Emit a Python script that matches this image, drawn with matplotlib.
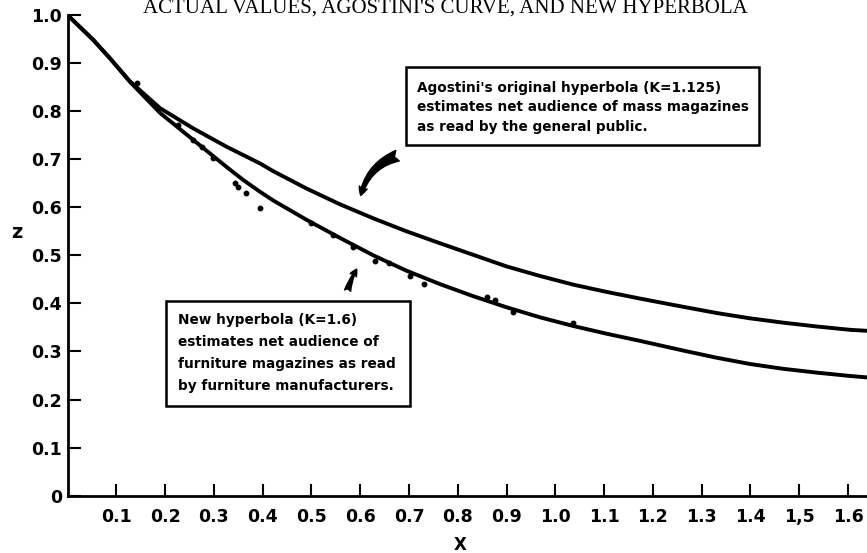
import matplotlib
matplotlib.use("Agg")
import matplotlib.pyplot as plt
from matplotlib.patches import Rectangle

# ---- data ----
agostini_x = [0, 0.053, 0.087, 0.128, 0.19, 0.258, 0.326, 0.395, 0.422, 0.49, 0.559, 0.627,
              0.695, 0.764, 0.832, 0.9, 0.969, 1.037, 1.105, 1.174, 1.262, 1.331, 1.399,
              1.467, 1.536, 1.605, 1.64]
agostini_z = [1.0, 0.948, 0.910, 0.862, 0.806, 0.764, 0.726, 0.691, 0.675, 0.639, 0.606, 0.577,
              0.550, 0.525, 0.501, 0.477, 0.457, 0.439, 0.424, 0.410, 0.393, 0.380, 0.369,
              0.360, 0.352, 0.345, 0.343]

new_x = [0, 0.053, 0.087, 0.128, 0.19, 0.224, 0.258, 0.292, 0.326, 0.36, 0.395, 0.422, 0.49,
         0.559, 0.627, 0.695, 0.764, 0.832, 0.9, 0.969, 1.037, 1.105, 1.174, 1.262, 1.331,
         1.399, 1.467, 1.536, 1.605, 1.64]
new_z = [1.0, 0.948, 0.910, 0.861, 0.796, 0.768, 0.740, 0.712, 0.684, 0.657, 0.632, 0.614, 0.574,
         0.536, 0.500, 0.468, 0.440, 0.415, 0.392, 0.371, 0.353, 0.337, 0.322, 0.302, 0.287,
         0.274, 0.264, 0.256, 0.249, 0.246]

actual_x = [0.142, 0.227, 0.258, 0.275, 0.299, 0.343, 0.350, 0.365, 0.395, 0.499, 0.545, 0.585,
            0.630, 0.659, 0.702, 0.731, 0.861, 0.876, 0.914, 1.037]
actual_z = [0.858, 0.771, 0.740, 0.726, 0.702, 0.651, 0.643, 0.630, 0.599, 0.567, 0.542, 0.517,
            0.489, 0.485, 0.457, 0.440, 0.414, 0.407, 0.383, 0.360]

x_ticks = [0.1, 0.2, 0.3, 0.4, 0.5, 0.6, 0.7, 0.8, 0.9, 1.0, 1.1, 1.2, 1.3, 1.4, 1.5, 1.6]
x_ticklabels = ["0.1", "0.2", "0.3", "0.4", "0.5", "0.6", "0.7", "0.8", "0.9", "1.0",
                "1.1", "1.2", "1.3", "1.4", "1,5", "1.6"]
y_ticks = [0, 0.1, 0.2, 0.3, 0.4, 0.5, 0.6, 0.7, 0.8, 0.9, 1.0]
y_ticklabels = ["0", "0.1", "0.2", "0.3", "0.4", "0.5", "0.6", "0.7", "0.8", "0.9", "1.0"]

title = "ACTUAL VALUES, AGOSTINI'S CURVE, AND NEW HYPERBOLA"
upper_note = ["Agostini's original hyperbola (K=1.125)",
              "estimates net audience of mass magazines",
              "as read by the general public."]
lower_note = ["New hyperbola (K=1.6)",
              "estimates net audience of",
              "furniture magazines as read",
              "by furniture manufacturers."]

W, H = 867, 553
fig = plt.figure(figsize=(W / 100, H / 100), dpi=100)
ax = fig.add_axes([67.5 / W, 1 - 495.7 / H, (W - 67.5) / W, (495.7 - 15) / H])

ax.plot(agostini_x, agostini_z, color="black", lw=2.8, solid_capstyle="round")
ax.plot(new_x, new_z, color="black", lw=2.8, solid_capstyle="round")
ax.plot(actual_x, actual_z, "o", color="black", ms=3.2)

ax.set_xlim(0, (W - 67.5) / 487.8)
ax.set_ylim(0, 1.0)
for s in ["top", "right"]:
    ax.spines[s].set_visible(False)
for s in ["left", "bottom"]:
    ax.spines[s].set_linewidth(2)
ax.set_xticks(x_ticks)
ax.set_xticklabels(x_ticklabels)
ax.set_yticks(y_ticks)
ax.set_yticklabels(y_ticklabels)
ax.tick_params(axis="x", direction="in", length=9, width=1.5, pad=9)
ax.tick_params(axis="y", direction="in", length=9, width=1.5, pad=4)
for lab in ax.get_xticklabels() + ax.get_yticklabels():
    lab.set_fontsize(12.5)
    lab.set_fontweight("bold")
    lab.set_family("DejaVu Sans")

fig.text(460 / W, 1 - 545 / H, "X", ha="center", va="center", fontsize=12, fontweight="bold")
fig.text(17 / W, 1 - 233 / H, "z", ha="center", va="center", fontsize=14, fontweight="bold")

fig.text(143 / W, 1 - 12.5 / H, title, ha="left", va="baseline", fontsize=15,
         family="Liberation Serif")

# annotation boxes
fig.patches.append(Rectangle((406 / W, 1 - 145 / H), (759 - 406) / W, (145 - 67) / H,
                             transform=fig.transFigure, fill=False, ec="black", lw=1.8))
for i, ln in enumerate(upper_note):
    fig.text(416.7 / W, 1 - (88 + 19.5 * i) / H, ln, ha="left", va="center",
             fontsize=9.8, fontweight="bold")
fig.patches.append(Rectangle((165.7 / W, 1 - 405.7 / H), (410 - 165.7) / W, (405.7 - 301) / H,
                             transform=fig.transFigure, fill=False, ec="black", lw=1.8))
for i, ln in enumerate(lower_note):
    fig.text(178 / W, 1 - (320 + 22 * i) / H, ln, ha="left", va="center",
             fontsize=9.8, fontweight="bold")

# arrows
ax.annotate("", xy=(0.600, 0.619), xytext=(0.682, 0.709),
            arrowprops=dict(arrowstyle="fancy,head_length=0.6,head_width=0.6,tail_width=0.8",
                            connectionstyle="arc3,rad=0.3", fc="black", ec="black"))
ax.annotate("", xy=(0.596, 0.476), xytext=(0.573, 0.421),
            arrowprops=dict(arrowstyle="fancy,head_length=0.5,head_width=0.5,tail_width=0.45",
                            connectionstyle="arc3,rad=-0.1", fc="black", ec="black"))

fig.savefig("out.png", dpi=100)
